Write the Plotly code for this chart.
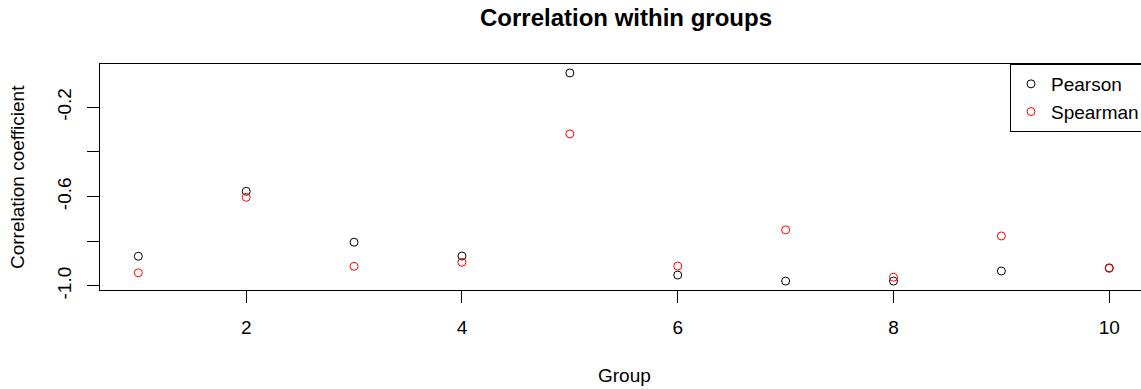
import plotly.graph_objects as go

groups = [1, 2, 3, 4, 5, 6, 7, 8, 9, 10]
pearson = [-0.867, -0.576, -0.804, -0.866, -0.046, -0.951, -0.978, -0.978, -0.933, -0.919]
spearman = [-0.941, -0.603, -0.912, -0.894, -0.319, -0.911, -0.749, -0.961, -0.776, -0.921]

x_tickvals = [2, 4, 6, 8, 10]
x_ticktext = ["2", "4", "6", "8", "10"]
y_tickvals = [-1.0, -0.8, -0.6, -0.4, -0.2]
y_ticktext = ["-1.0", "", "-0.6", "", "-0.2"]

FONT = "Liberation Sans, Arial, sans-serif"

L, T = 100, 64
W, H = 1141, 389
PW = W - L
PH = 226
B = H - T - PH


def px(xs):
    return (xs - L) / PW


def py(ys):
    return (T + PH - ys) / PH


fig = go.Figure()
fig.add_trace(go.Scatter(x=groups, y=pearson, mode="markers", name="Pearson",
                         marker=dict(symbol="circle-open", size=8, color="black",
                                     line=dict(width=1, color="black"))))
fig.add_trace(go.Scatter(x=groups, y=spearman, mode="markers", name="Spearman",
                         marker=dict(symbol="circle-open", size=8, color="red",
                                     line=dict(width=1, color="red"))))

fig.update_layout(
    width=W, height=H,
    margin=dict(l=L, r=0, t=T, b=B, autoexpand=False),
    plot_bgcolor="white", paper_bgcolor="white",
    font=dict(family=FONT, size=19, color="black"),
    showlegend=True,
    legend=dict(x=px(1010), y=1, xanchor="left", yanchor="top",
                bordercolor="black", borderwidth=1, bgcolor="white",
                font=dict(size=19), itemwidth=30, tracegroupgap=0),
    xaxis=dict(range=[0.645, 10.294], tickvals=x_tickvals, ticktext=x_ticktext,
               showgrid=False, zeroline=False, showline=True, linecolor="black",
               linewidth=1, mirror=True, ticks="outside", ticklen=12,
               tickcolor="black", ticklabelstandoff=8),
    yaxis=dict(range=[-1.018, -0.006], tickvals=y_tickvals, ticktext=y_ticktext,
               showgrid=False, zeroline=False, showline=True, linecolor="black",
               linewidth=1, mirror=False, ticks="outside", ticklen=12,
               tickcolor="black", tickangle=-90, ticklabelstandoff=8),
    annotations=[
        dict(text="<b>Correlation within groups</b>", xref="paper", yref="paper",
             x=px(626), y=py(17), xanchor="center", yanchor="middle",
             showarrow=False, font=dict(size=24)),
        dict(text="Group", xref="paper", yref="paper",
             x=px(624), y=py(375), xanchor="center", yanchor="middle",
             showarrow=False, font=dict(size=19)),
        dict(text="Correlation coefficient", xref="paper", yref="paper",
             x=px(17), y=py(177), xanchor="center", yanchor="middle",
             textangle=-90, showarrow=False, font=dict(size=19)),
    ],
)

fig.write_html("out.html",
               config={"displayModeBar": False},
               post_script="document.body.style.margin='0';document.body.style.overflow='hidden';")
